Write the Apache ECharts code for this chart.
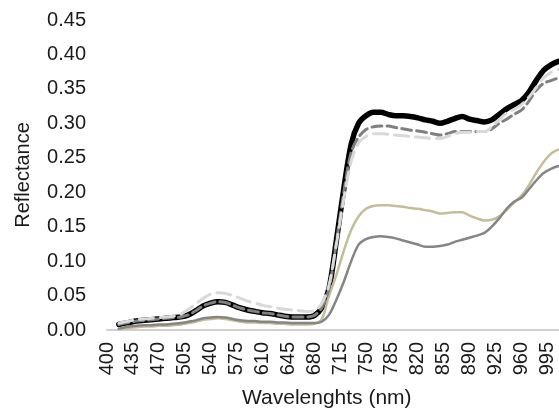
<!DOCTYPE html>
<html>
<head>
<meta charset="utf-8">
<script src="https://cdn.jsdelivr.net/npm/echarts@6/dist/echarts.min.js"></script>
<style>
  html, body { margin: 0; padding: 0; background: #fff; overflow: hidden; }
  #wrap { width: 559px; height: 414px; overflow: hidden; }
  #chart { width: 600px; height: 414px; }
</style>
</head>
<body>
<div id="wrap"><div id="chart"></div></div>
<script>
// 波长 (nm)
const wavelengths = [416, 420, 430, 440, 450, 460, 470, 480, 490, 500, 510, 520, 530, 540, 550, 560, 570, 580, 590, 600,
  610, 620, 630, 640, 650, 660, 670, 680, 690, 700, 710, 720, 730, 740, 750, 760, 770, 780, 790, 800,
  810, 820, 830, 840, 850, 860, 870, 880, 890, 900, 910, 920, 930, 940, 950, 960, 970, 980, 990, 1000, 1010]

// 黑色粗线
const blackLine = [0.008, 0.009, 0.011, 0.013, 0.014, 0.015, 0.016, 0.017, 0.018, 0.019, 0.022, 0.028, 0.035, 0.039, 0.041, 0.040, 0.036, 0.032, 0.029, 0.027,
  0.025, 0.024, 0.022, 0.020, 0.019, 0.019, 0.019, 0.021, 0.032, 0.060, 0.130, 0.205, 0.270, 0.300, 0.311, 0.316, 0.316, 0.313, 0.311, 0.311,
  0.310, 0.308, 0.305, 0.303, 0.300, 0.303, 0.307, 0.310, 0.306, 0.304, 0.302, 0.305, 0.313, 0.321, 0.327, 0.333, 0.345, 0.362, 0.377, 0.385, 0.390]

// 深灰虚线
const darkDashed = [0.008, 0.009, 0.011, 0.013, 0.014, 0.015, 0.016, 0.017, 0.018, 0.019, 0.022, 0.028, 0.035, 0.039, 0.041, 0.040, 0.036, 0.032, 0.029, 0.027,
  0.025, 0.024, 0.022, 0.020, 0.019, 0.019, 0.019, 0.021, 0.032, 0.060, 0.128, 0.200, 0.258, 0.280, 0.291, 0.295, 0.296, 0.296, 0.294, 0.292,
  0.290, 0.289, 0.287, 0.285, 0.283, 0.285, 0.288, 0.288, 0.288, 0.288, 0.288, 0.292, 0.300, 0.306, 0.313, 0.319, 0.332, 0.348, 0.358, 0.362, 0.366]

// 浅灰虚线
const lightDashed = [0.010, 0.011, 0.013, 0.015, 0.016, 0.017, 0.018, 0.019, 0.020, 0.023, 0.030, 0.038, 0.046, 0.052, 0.054, 0.053, 0.050, 0.046, 0.042, 0.039,
  0.036, 0.034, 0.032, 0.030, 0.029, 0.028, 0.027, 0.028, 0.038, 0.065, 0.125, 0.190, 0.245, 0.272, 0.281, 0.285, 0.285, 0.284, 0.283, 0.282,
  0.281, 0.280, 0.279, 0.278, 0.278, 0.281, 0.285, 0.287, 0.287, 0.288, 0.288, 0.295, 0.305, 0.315, 0.320, 0.327, 0.338, 0.352, 0.366, 0.374, 0.378]

// 棕褐色实线
const tanLine = [0.001, 0.002, 0.003, 0.004, 0.005, 0.005, 0.006, 0.006, 0.007, 0.008, 0.010, 0.012, 0.015, 0.016, 0.017, 0.016, 0.014, 0.012, 0.011, 0.011,
  0.010, 0.010, 0.009, 0.009, 0.008, 0.008, 0.008, 0.009, 0.015, 0.050, 0.080, 0.115, 0.145, 0.165, 0.176, 0.180, 0.181, 0.181, 0.180, 0.179,
  0.177, 0.176, 0.174, 0.172, 0.169, 0.170, 0.171, 0.171, 0.166, 0.162, 0.159, 0.160, 0.165, 0.174, 0.185, 0.195, 0.210, 0.228, 0.244, 0.256, 0.262]

// 灰色实线
const grayLine = [0.002, 0.003, 0.005, 0.006, 0.007, 0.007, 0.008, 0.008, 0.009, 0.010, 0.012, 0.014, 0.017, 0.018, 0.019, 0.018, 0.016, 0.014, 0.013, 0.013,
  0.012, 0.012, 0.011, 0.011, 0.010, 0.010, 0.010, 0.010, 0.012, 0.022, 0.044, 0.070, 0.100, 0.124, 0.132, 0.135, 0.136, 0.135, 0.133, 0.130,
  0.127, 0.124, 0.121, 0.121, 0.122, 0.124, 0.128, 0.131, 0.134, 0.137, 0.141, 0.150, 0.162, 0.176, 0.186, 0.192, 0.204, 0.217, 0.228, 0.234, 0.238]

const pair = arr => arr.map((v, i) => [wavelengths[i], v])
const font = 'Liberation Sans, Arial, sans-serif'

const chart = echarts.init(document.getElementById('chart'))

const series = [
  { name: 'black', data: pair(blackLine), color: '#000000', width: 5.5, type: 'solid' },
  { name: 'tan', data: pair(tanLine), color: '#c4bd97', width: 2.5, type: 'solid' },
  { name: 'gray', data: pair(grayLine), color: '#858585', width: 2.5, type: 'solid' },
  { name: 'darkDashed', data: pair(darkDashed), color: '#808080', width: 3, type: [10, 5] },
  { name: 'lightDashed', data: pair(lightDashed), color: '#d9d9d9', width: 3, type: [14, 7] }
].map(s => ({
  name: s.name,
  type: 'line',
  data: s.data,
  showSymbol: false,
  smooth: 0.3,
  lineStyle: { color: s.color, width: s.width, type: s.type, cap: 'round', join: 'round' }
}))

// 图表比截图宽，右侧被裁掉
chart.setOption({
  animation: false,
  grid: { left: 107, right: 12, top: 20, bottom: 84, containLabel: false },
  xAxis: {
    type: 'value',
    min: 400,
    max: 1050,
    interval: 35,
    axisLine: { show: true, lineStyle: { color: '#d0d0d0', width: 2 } },
    axisTick: { show: false },
    splitLine: { show: false },
    axisLabel: { rotate: 90, margin: 12, fontSize: 20, color: '#1a1a1a', fontFamily: font, showMaxLabel: false, formatter: v => String(v) }
  },
  yAxis: {
    type: 'value',
    min: 0,
    max: 0.45,
    interval: 0.05,
    name: 'Reflectance',
    nameLocation: 'middle',
    nameGap: 74,
    nameTextStyle: { fontSize: 20, color: '#1a1a1a', fontFamily: font },
    axisLine: { show: false },
    axisTick: { show: false },
    splitLine: { show: false },
    axisLabel: { margin: 21, fontSize: 20, color: '#1a1a1a', fontFamily: font, formatter: v => v.toFixed(2) }
  },
  graphic: [{
    type: 'text',
    left: 242,
    top: 388,
    style: { text: 'Wavelenghts (nm)', fontSize: 21, fill: '#1a1a1a', font: '21px ' + font }
  }],
  series
})
</script>
</body>
</html>
